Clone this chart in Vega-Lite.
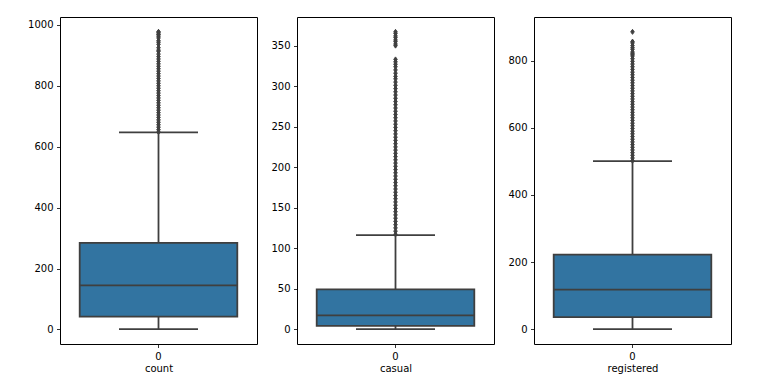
{
  "$schema": "https://vega.github.io/schema/vega-lite/v6.json",
  "background": "white",
  "padding": {"left": 27, "top": 16, "right": 5, "bottom": 5},
  "spacing": 40,
  "bounds": "flush",
  "datasets": {
    "stats": [
      {"v": "count", "g": "0", "lo": 1, "q1": 42, "med": 145, "q3": 284, "hi": 647},
      {"v": "casual", "g": "0", "lo": 0, "q1": 4, "med": 17, "q3": 49, "hi": 116},
      {"v": "registered", "g": "0", "lo": 0, "q1": 36, "med": 118, "q3": 222, "hi": 501}
    ],
    "out": [
      {"v": "count", "y": 648}, {"v": "count", "y": 656}, {"v": "count", "y": 664}, {"v": "count", "y": 672},
      {"v": "count", "y": 680}, {"v": "count", "y": 688}, {"v": "count", "y": 696}, {"v": "count", "y": 704},
      {"v": "count", "y": 712}, {"v": "count", "y": 720}, {"v": "count", "y": 728}, {"v": "count", "y": 736},
      {"v": "count", "y": 744}, {"v": "count", "y": 752}, {"v": "count", "y": 760}, {"v": "count", "y": 768},
      {"v": "count", "y": 776}, {"v": "count", "y": 784}, {"v": "count", "y": 792}, {"v": "count", "y": 800},
      {"v": "count", "y": 808}, {"v": "count", "y": 816}, {"v": "count", "y": 824}, {"v": "count", "y": 832},
      {"v": "count", "y": 840}, {"v": "count", "y": 848}, {"v": "count", "y": 856}, {"v": "count", "y": 864},
      {"v": "count", "y": 872}, {"v": "count", "y": 880}, {"v": "count", "y": 888}, {"v": "count", "y": 896},
      {"v": "count", "y": 904}, {"v": "count", "y": 913}, {"v": "count", "y": 917}, {"v": "count", "y": 925},
      {"v": "count", "y": 936}, {"v": "count", "y": 943}, {"v": "count", "y": 948}, {"v": "count", "y": 957},
      {"v": "count", "y": 963}, {"v": "count", "y": 968}, {"v": "count", "y": 970}, {"v": "count", "y": 976},
      {"v": "count", "y": 977},
      {"v": "casual", "y": 117}, {"v": "casual", "y": 121}, {"v": "casual", "y": 125}, {"v": "casual", "y": 129},
      {"v": "casual", "y": 133}, {"v": "casual", "y": 137}, {"v": "casual", "y": 141}, {"v": "casual", "y": 145},
      {"v": "casual", "y": 149}, {"v": "casual", "y": 153}, {"v": "casual", "y": 157}, {"v": "casual", "y": 161},
      {"v": "casual", "y": 165}, {"v": "casual", "y": 169}, {"v": "casual", "y": 173}, {"v": "casual", "y": 177},
      {"v": "casual", "y": 181}, {"v": "casual", "y": 185}, {"v": "casual", "y": 189}, {"v": "casual", "y": 193},
      {"v": "casual", "y": 197}, {"v": "casual", "y": 201}, {"v": "casual", "y": 205}, {"v": "casual", "y": 209},
      {"v": "casual", "y": 213}, {"v": "casual", "y": 217}, {"v": "casual", "y": 221}, {"v": "casual", "y": 225},
      {"v": "casual", "y": 229}, {"v": "casual", "y": 233}, {"v": "casual", "y": 237}, {"v": "casual", "y": 241},
      {"v": "casual", "y": 245}, {"v": "casual", "y": 249}, {"v": "casual", "y": 253}, {"v": "casual", "y": 257},
      {"v": "casual", "y": 261}, {"v": "casual", "y": 265}, {"v": "casual", "y": 269}, {"v": "casual", "y": 273},
      {"v": "casual", "y": 277}, {"v": "casual", "y": 281}, {"v": "casual", "y": 285}, {"v": "casual", "y": 289},
      {"v": "casual", "y": 293}, {"v": "casual", "y": 297}, {"v": "casual", "y": 301}, {"v": "casual", "y": 305},
      {"v": "casual", "y": 309}, {"v": "casual", "y": 312}, {"v": "casual", "y": 316}, {"v": "casual", "y": 320},
      {"v": "casual", "y": 324}, {"v": "casual", "y": 327}, {"v": "casual", "y": 330}, {"v": "casual", "y": 333},
      {"v": "casual", "y": 350}, {"v": "casual", "y": 352}, {"v": "casual", "y": 355}, {"v": "casual", "y": 357},
      {"v": "casual", "y": 360}, {"v": "casual", "y": 362}, {"v": "casual", "y": 365}, {"v": "casual", "y": 367},
      {"v": "registered", "y": 502}, {"v": "registered", "y": 510}, {"v": "registered", "y": 518}, {"v": "registered", "y": 526},
      {"v": "registered", "y": 534}, {"v": "registered", "y": 542}, {"v": "registered", "y": 550}, {"v": "registered", "y": 558},
      {"v": "registered", "y": 566}, {"v": "registered", "y": 574}, {"v": "registered", "y": 582}, {"v": "registered", "y": 590},
      {"v": "registered", "y": 598}, {"v": "registered", "y": 606}, {"v": "registered", "y": 614}, {"v": "registered", "y": 622},
      {"v": "registered", "y": 630}, {"v": "registered", "y": 638}, {"v": "registered", "y": 646}, {"v": "registered", "y": 654},
      {"v": "registered", "y": 662}, {"v": "registered", "y": 670}, {"v": "registered", "y": 678}, {"v": "registered", "y": 686},
      {"v": "registered", "y": 694}, {"v": "registered", "y": 702}, {"v": "registered", "y": 710}, {"v": "registered", "y": 718},
      {"v": "registered", "y": 726}, {"v": "registered", "y": 734}, {"v": "registered", "y": 742}, {"v": "registered", "y": 750},
      {"v": "registered", "y": 758}, {"v": "registered", "y": 766}, {"v": "registered", "y": 774}, {"v": "registered", "y": 782},
      {"v": "registered", "y": 790}, {"v": "registered", "y": 798}, {"v": "registered", "y": 806}, {"v": "registered", "y": 814},
      {"v": "registered", "y": 818}, {"v": "registered", "y": 822}, {"v": "registered", "y": 826}, {"v": "registered", "y": 834},
      {"v": "registered", "y": 839}, {"v": "registered", "y": 845}, {"v": "registered", "y": 853}, {"v": "registered", "y": 857},
      {"v": "registered", "y": 886}
    ]
  },
  "hconcat": [
    {
      "width": 197, "height": 327,
      "layer": [
        {"data": {"name": "stats"}, "transform": [{"filter": "datum.v === 'count'"}],
         "mark": {"type": "rule", "color": "#3f3f3f", "strokeWidth": 1.8},
         "encoding": {
           "x": {"field": "g", "type": "nominal", "scale": {"paddingInner": 0, "paddingOuter": 0}, "axis": {"title": "count"}},
           "y": {"field": "lo", "type": "quantitative", "scale": {"domain": [-47.8, 1025.8], "nice": false, "zero": false}, "axis": {"values": [0, 200, 400, 600, 800, 1000], "format": "d", "title": null}},
           "y2": {"field": "hi"}}},
        {"data": {"name": "stats"}, "transform": [{"filter": "datum.v === 'count'"}],
         "mark": {"type": "bar", "width": {"band": 0.8}, "fill": "#3274a1", "stroke": "#3f3f3f", "strokeWidth": 1.8},
         "encoding": {"x": {"field": "g", "type": "nominal"}, "y": {"field": "q1", "type": "quantitative"}, "y2": {"field": "q3"}}},
        {"data": {"name": "stats"}, "transform": [{"filter": "datum.v === 'count'"}],
         "mark": {"type": "tick", "color": "#3f3f3f", "size": 158, "thickness": 1.8, "opacity": 1},
         "encoding": {"x": {"field": "g", "type": "nominal"}, "y": {"field": "med", "type": "quantitative"}}},
        {"data": {"name": "stats"}, "transform": [{"filter": "datum.v === 'count'"}],
         "mark": {"type": "tick", "color": "#3f3f3f", "size": 79, "thickness": 1.8, "opacity": 1},
         "encoding": {"x": {"field": "g", "type": "nominal"}, "y": {"field": "lo", "type": "quantitative"}}},
        {"data": {"name": "stats"}, "transform": [{"filter": "datum.v === 'count'"}],
         "mark": {"type": "tick", "color": "#3f3f3f", "size": 79, "thickness": 1.8, "opacity": 1},
         "encoding": {"x": {"field": "g", "type": "nominal"}, "y": {"field": "hi", "type": "quantitative"}}},
        {"data": {"name": "out"}, "transform": [{"filter": "datum.v === 'count'"}],
         "mark": {"type": "point", "shape": "M0,-1L0.7,0L0,1L-0.7,0Z", "size": 25, "filled": true, "color": "#3f3f3f", "stroke": "#3f3f3f", "strokeWidth": 1, "opacity": 1},
         "encoding": {"x": {"datum": "0", "type": "nominal"}, "y": {"field": "y", "type": "quantitative"}}}
      ]
    },
    {
      "width": 197, "height": 327,
      "layer": [
        {"data": {"name": "stats"}, "transform": [{"filter": "datum.v === 'casual'"}],
         "mark": {"type": "rule", "color": "#3f3f3f", "strokeWidth": 1.8},
         "encoding": {
           "x": {"field": "g", "type": "nominal", "scale": {"paddingInner": 0, "paddingOuter": 0}, "axis": {"title": "casual"}},
           "y": {"field": "lo", "type": "quantitative", "scale": {"domain": [-18.35, 385.35], "nice": false, "zero": false}, "axis": {"values": [0, 50, 100, 150, 200, 250, 300, 350], "format": "d", "title": null}},
           "y2": {"field": "hi"}}},
        {"data": {"name": "stats"}, "transform": [{"filter": "datum.v === 'casual'"}],
         "mark": {"type": "bar", "width": {"band": 0.8}, "fill": "#3274a1", "stroke": "#3f3f3f", "strokeWidth": 1.8},
         "encoding": {"x": {"field": "g", "type": "nominal"}, "y": {"field": "q1", "type": "quantitative"}, "y2": {"field": "q3"}}},
        {"data": {"name": "stats"}, "transform": [{"filter": "datum.v === 'casual'"}],
         "mark": {"type": "tick", "color": "#3f3f3f", "size": 158, "thickness": 1.8, "opacity": 1},
         "encoding": {"x": {"field": "g", "type": "nominal"}, "y": {"field": "med", "type": "quantitative"}}},
        {"data": {"name": "stats"}, "transform": [{"filter": "datum.v === 'casual'"}],
         "mark": {"type": "tick", "color": "#3f3f3f", "size": 79, "thickness": 1.8, "opacity": 1},
         "encoding": {"x": {"field": "g", "type": "nominal"}, "y": {"field": "lo", "type": "quantitative"}}},
        {"data": {"name": "stats"}, "transform": [{"filter": "datum.v === 'casual'"}],
         "mark": {"type": "tick", "color": "#3f3f3f", "size": 79, "thickness": 1.8, "opacity": 1},
         "encoding": {"x": {"field": "g", "type": "nominal"}, "y": {"field": "hi", "type": "quantitative"}}},
        {"data": {"name": "out"}, "transform": [{"filter": "datum.v === 'casual'"}],
         "mark": {"type": "point", "shape": "M0,-1L0.7,0L0,1L-0.7,0Z", "size": 25, "filled": true, "color": "#3f3f3f", "stroke": "#3f3f3f", "strokeWidth": 1, "opacity": 1},
         "encoding": {"x": {"datum": "0", "type": "nominal"}, "y": {"field": "y", "type": "quantitative"}}}
      ]
    },
    {
      "width": 197, "height": 327,
      "layer": [
        {"data": {"name": "stats"}, "transform": [{"filter": "datum.v === 'registered'"}],
         "mark": {"type": "rule", "color": "#3f3f3f", "strokeWidth": 1.8},
         "encoding": {
           "x": {"field": "g", "type": "nominal", "scale": {"paddingInner": 0, "paddingOuter": 0}, "axis": {"title": "registered"}},
           "y": {"field": "lo", "type": "quantitative", "scale": {"domain": [-44.3, 930.3], "nice": false, "zero": false}, "axis": {"values": [0, 200, 400, 600, 800], "format": "d", "title": null}},
           "y2": {"field": "hi"}}},
        {"data": {"name": "stats"}, "transform": [{"filter": "datum.v === 'registered'"}],
         "mark": {"type": "bar", "width": {"band": 0.8}, "fill": "#3274a1", "stroke": "#3f3f3f", "strokeWidth": 1.8},
         "encoding": {"x": {"field": "g", "type": "nominal"}, "y": {"field": "q1", "type": "quantitative"}, "y2": {"field": "q3"}}},
        {"data": {"name": "stats"}, "transform": [{"filter": "datum.v === 'registered'"}],
         "mark": {"type": "tick", "color": "#3f3f3f", "size": 158, "thickness": 1.8, "opacity": 1},
         "encoding": {"x": {"field": "g", "type": "nominal"}, "y": {"field": "med", "type": "quantitative"}}},
        {"data": {"name": "stats"}, "transform": [{"filter": "datum.v === 'registered'"}],
         "mark": {"type": "tick", "color": "#3f3f3f", "size": 79, "thickness": 1.8, "opacity": 1},
         "encoding": {"x": {"field": "g", "type": "nominal"}, "y": {"field": "lo", "type": "quantitative"}}},
        {"data": {"name": "stats"}, "transform": [{"filter": "datum.v === 'registered'"}],
         "mark": {"type": "tick", "color": "#3f3f3f", "size": 79, "thickness": 1.8, "opacity": 1},
         "encoding": {"x": {"field": "g", "type": "nominal"}, "y": {"field": "hi", "type": "quantitative"}}},
        {"data": {"name": "out"}, "transform": [{"filter": "datum.v === 'registered'"}],
         "mark": {"type": "point", "shape": "M0,-1L0.7,0L0,1L-0.7,0Z", "size": 25, "filled": true, "color": "#3f3f3f", "stroke": "#3f3f3f", "strokeWidth": 1, "opacity": 1},
         "encoding": {"x": {"datum": "0", "type": "nominal"}, "y": {"field": "y", "type": "quantitative"}}}
      ]
    }
  ],
  "config": {
    "view": {"stroke": "#000000", "strokeWidth": 1},
    "axis": {
      "domain": false, "grid": false, "tickColor": "#000000", "tickSize": 3.5, "tickWidth": 0.8,
      "labelFont": "DejaVu Sans", "labelFontSize": 10, "labelColor": "#000000", "labelPadding": 3.5,
      "titleFont": "DejaVu Sans", "titleFontSize": 10, "titleFontWeight": "normal", "titleColor": "#000000"
    },
    "axisX": {"labelAngle": 0, "titlePadding": 2}
  }
}
